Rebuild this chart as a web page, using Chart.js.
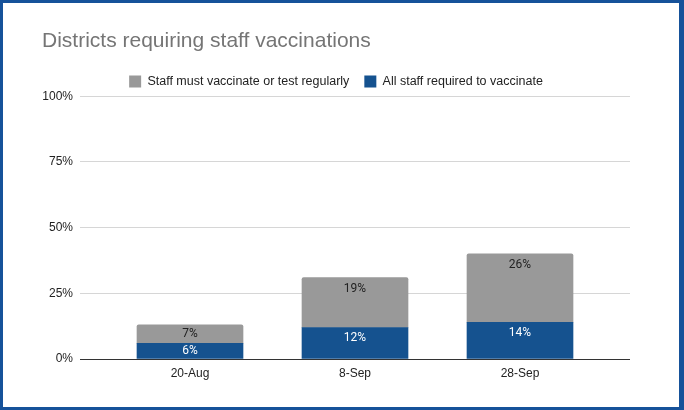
<!DOCTYPE html>
<html>
<head>
<meta charset="utf-8">
<script src="https://cdn.jsdelivr.net/npm/chart.js@4"></script>
<style>
html,body{margin:0;padding:0;background:#fff;}
#frame{width:676px;height:404px;border-style:solid;border-color:#16529a;border-width:3px 5px 3px 3px;background:#fff;}
canvas{display:block;}
</style>
</head>
<body>
<div id="frame"><canvas id="c" width="676" height="404"></canvas></div>
<script>
const categories = ["20-Aug", "8-Sep", "28-Sep"];
const allStaffRequired = [6, 12, 14];
const vaccinateOrTest = [7, 19, 26];
const yTicks = [0, 25, 50, 75, 100];
const seriesNames = ["All staff required to vaccinate", "Staff must vaccinate or test regularly"];

const FONT = "'Liberation Sans', Arial, sans-serif";

const labelPlugin = {
  id: 'segLabels',
  afterDatasetsDraw(chart) {
    const ctx = chart.ctx;
    ctx.save();
    ctx.font = "12px Roboto, 'Liberation Sans', sans-serif";
    ctx.textAlign = 'center';
    ctx.textBaseline = 'middle';
    chart.data.datasets.forEach((ds, di) => {
      const meta = chart.getDatasetMeta(di);
      meta.data.forEach((bar, i) => {
        const h = bar.base - bar.y;
        const cy = bar.y + Math.min(11, h / 2);
        ctx.fillStyle = di === 0 ? '#ffffff' : '#222222';
        ctx.fillText(ds.data[i].y + '%', bar.x, cy);
      });
    });
    ctx.restore();
  }
};

new Chart(document.getElementById('c'), {
  type: 'bar',
  data: {
    datasets: [
      {
        label: seriesNames[0],
        data: categories.map((c, i) => ({x: i, y: allStaffRequired[i]})),
        backgroundColor: '#15528f',
        barThickness: 106,
        borderRadius: 0
      },
      {
        label: seriesNames[1],
        data: categories.map((c, i) => ({x: i, y: vaccinateOrTest[i]})),
        backgroundColor: '#999999',
        barThickness: 106,
        borderRadius: {topLeft: 2, topRight: 2, bottomLeft: 0, bottomRight: 0},
        borderSkipped: false
      }
    ]
  },
  options: {
    responsive: false,
    animation: false,
    devicePixelRatio: 1,
    layout: {padding: {left: 39, right: 49, top: 0, bottom: 0}},
    plugins: {
      title: {
        display: true,
        text: 'Districts requiring staff vaccinations',
        align: 'start',
        color: '#757575',
        font: {family: FONT, size: 21, weight: 'normal'},
        padding: {top: 26, bottom: 6}
      },
      legend: {
        display: true,
        position: 'top',
        maxHeight: 36,
        labels: {
          color: '#222222',
          font: {family: FONT, size: 12.5},
          boxWidth: 12,
          boxHeight: 12,
          padding: 15,
          sort: (a, b) => b.datasetIndex - a.datasetIndex
        }
      },
      tooltip: {enabled: false}
    },
    scales: {
      x: {
        type: 'linear',
        min: -2/3,
        max: 8/3,
        offset: false,
        stacked: true,
        grid: {display: false, drawTicks: false},
        border: {display: false},
        afterBuildTicks: s => { s.ticks = categories.map((c, i) => ({value: i})); },
        afterFit: s => { s.height = 48; },
        ticks: {
          color: '#222222',
          font: {family: FONT, size: 12},
          padding: 7,
          autoSkip: false,
          maxRotation: 0,
          callback: v => categories[v]
        }
      },
      y: {
        stacked: true,
        min: 0,
        max: 100,
        afterBuildTicks: s => { s.ticks = yTicks.map(v => ({value: v})); },
        afterFit: s => { s.width = 38; },
        grid: {
          drawTicks: false,
          color: c => c.tick && c.tick.value === 0 ? '#333333' : '#d6d6d6',
          lineWidth: 1
        },
        border: {display: false},
        ticks: {
          color: '#222222',
          font: {family: FONT, size: 12},
          padding: 7,
          callback: v => v + '%'
        }
      }
    }
  },
  plugins: [labelPlugin]
});
</script>
</body>
</html>
